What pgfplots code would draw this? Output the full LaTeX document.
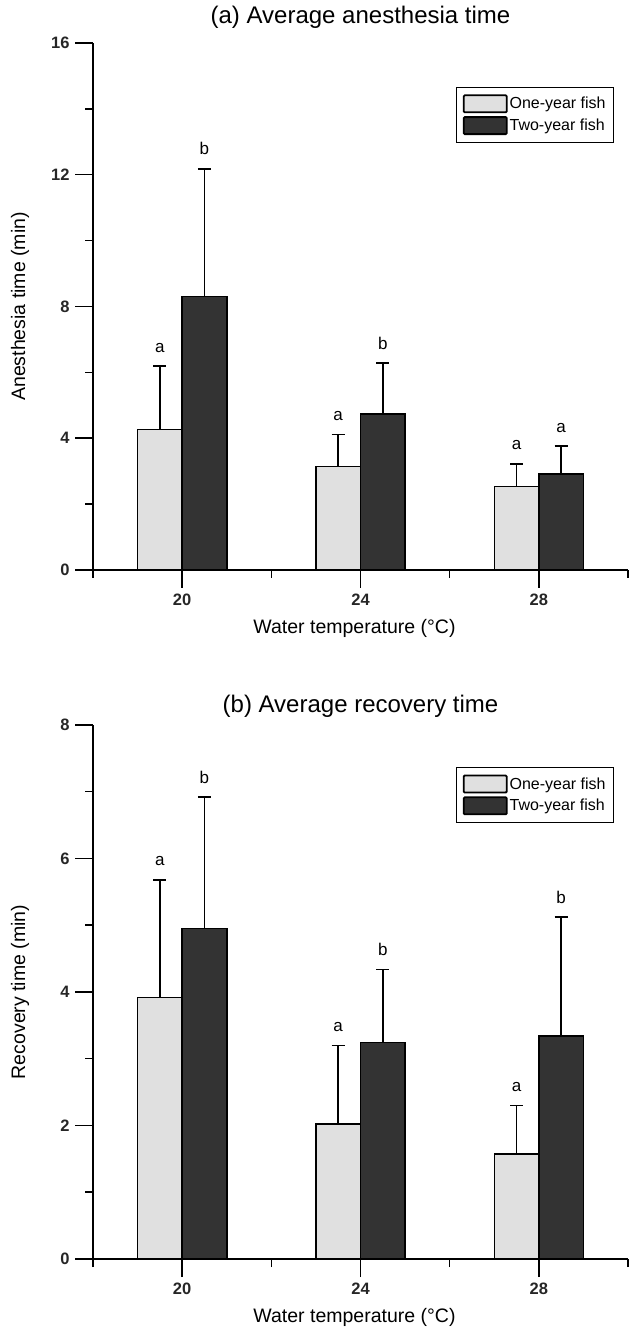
\documentclass[border=0pt]{standalone}
\usepackage{fontspec}
\setmainfont{Liberation Sans}
\usepackage{pgfplots}
\pgfplotsset{compat=1.18}

\definecolor{oneyear}{HTML}{E0E0E0}
\definecolor{twoyear}{HTML}{333333}

\tikzset{letter/.style={anchor=base, yshift=14pt, font=\fontsize{17}{20}\selectfont}}

\pgfplotsset{
  fishaxis/.style={
    scale only axis, width=535pt,
    xmin=18, xmax=30, ymin=0,
    axis x line*=bottom, axis y line*=left,
    xtick={20,24,28}, minor xtick={18,22,26,30},
    tick align=outside,
    major tick length=18pt, minor tick length=8pt,
    every tick/.style={black, line width=1.5pt},
    axis line style={line width=1.5pt},
    clip=false,
    /pgf/number format/assume math mode=true,
    ticklabel style={font=\fontsize{16.5}{19}\selectfont\bfseries, text=black!85},
    yticklabel style={xshift=-2pt},
    xticklabel style={yshift=-2pt},
    label style={font=\fontsize{19.5}{22}\selectfont},
    xlabel={Water temperature (°C)},
    xlabel style={at={([yshift=-58pt,xshift=-6pt]axis description cs:0.5,0)}, anchor=center},
    ylabel style={at={([xshift=-73pt]axis description cs:0,0.5)}, anchor=center},
    title style={font=\fontsize{24}{28}\selectfont, anchor=center},
    legend style={anchor=north east, draw=black, line width=0.9pt,
      font=\fontsize{16}{19}\selectfont, inner xsep=6pt, inner ysep=7pt,
      row sep=3pt, cells={anchor=west}},
    legend image code/.code={\draw[#1, line width=1.8pt, rounded corners=1pt] (0pt,-8.5pt) rectangle (43pt,8.5pt);},
    barbase/.style={ybar, bar width=1, bar shift=0pt, draw=black, line width=1.5pt,
      error bars/.cd, y dir=plus, y explicit, error mark=|,
      error bar style={line width=1.5pt, black},
      error mark options={line width=1.5pt, mark size=6.5pt, black}},
    onebar/.style={fill=oneyear, barbase},
    twobar/.style={fill=twoyear, barbase},
  }
}

\begin{document}
\begin{tikzpicture}
\path[use as bounding box] (0,0) rectangle (631pt,1329pt);

% (a) anesthesia time; one-year bars sit left of each tick, two-year bars right
\begin{axis}[fishaxis,
    at={(93pt,759pt)}, anchor=south west, height=527pt,
    ymax=16, ytick={0,4,8,12,16}, minor ytick={2,6,10,14},
    ylabel={Anesthesia time (min)},
    title={(a) Average anesthesia time},
    title style={at={([yshift=20pt]axis description cs:0.5,1)}},
    legend style={at={(axis description cs:0.974,0.9165)}},
]
\addplot[onebar] coordinates {(19.5,4.27) +- (0,1.92) (23.5,3.14) +- (0,0.97) (27.5,2.53) +- (0,0.69)};
\addlegendentry{One-year fish}
\addplot[twobar] coordinates {(20.5,8.31) +- (0,3.87) (24.5,4.73) +- (0,1.55) (28.5,2.91) +- (0,0.85)};
\addlegendentry{Two-year fish}
\node[letter] at (axis cs:19.5,6.19) {a};
\node[letter] at (axis cs:20.5,12.18) {b};
\node[letter] at (axis cs:23.5,4.11) {a};
\node[letter] at (axis cs:24.5,6.28) {b};
\node[letter] at (axis cs:27.5,3.22) {a};
\node[letter] at (axis cs:28.5,3.76) {a};
\end{axis}

% (b) recovery time
\begin{axis}[fishaxis,
    at={(93pt,70pt)}, anchor=south west, height=534pt,
    ymax=8, ytick={0,2,4,6,8}, minor ytick={1,3,5,7},
    ylabel={Recovery time (min)},
    title={(b) Average recovery time},
    title style={at={([yshift=13pt]axis description cs:0.5,1)}},
    legend style={at={(axis description cs:0.974,0.921)}},
]
\addplot[onebar] coordinates {(19.5,3.92) +- (0,1.76) (23.5,2.02) +- (0,1.18) (27.5,1.57) +- (0,0.73)};
\addlegendentry{One-year fish}
\addplot[twobar] coordinates {(20.5,4.95) +- (0,1.97) (24.5,3.24) +- (0,1.10) (28.5,3.34) +- (0,1.78)};
\addlegendentry{Two-year fish}
\node[letter] at (axis cs:19.5,5.68) {a};
\node[letter] at (axis cs:20.5,6.92) {b};
\node[letter] at (axis cs:23.5,3.20) {a};
\node[letter] at (axis cs:24.5,4.34) {b};
\node[letter] at (axis cs:27.5,2.30) {a};
\node[letter] at (axis cs:28.5,5.12) {b};
\end{axis}
\end{tikzpicture}
\end{document}
